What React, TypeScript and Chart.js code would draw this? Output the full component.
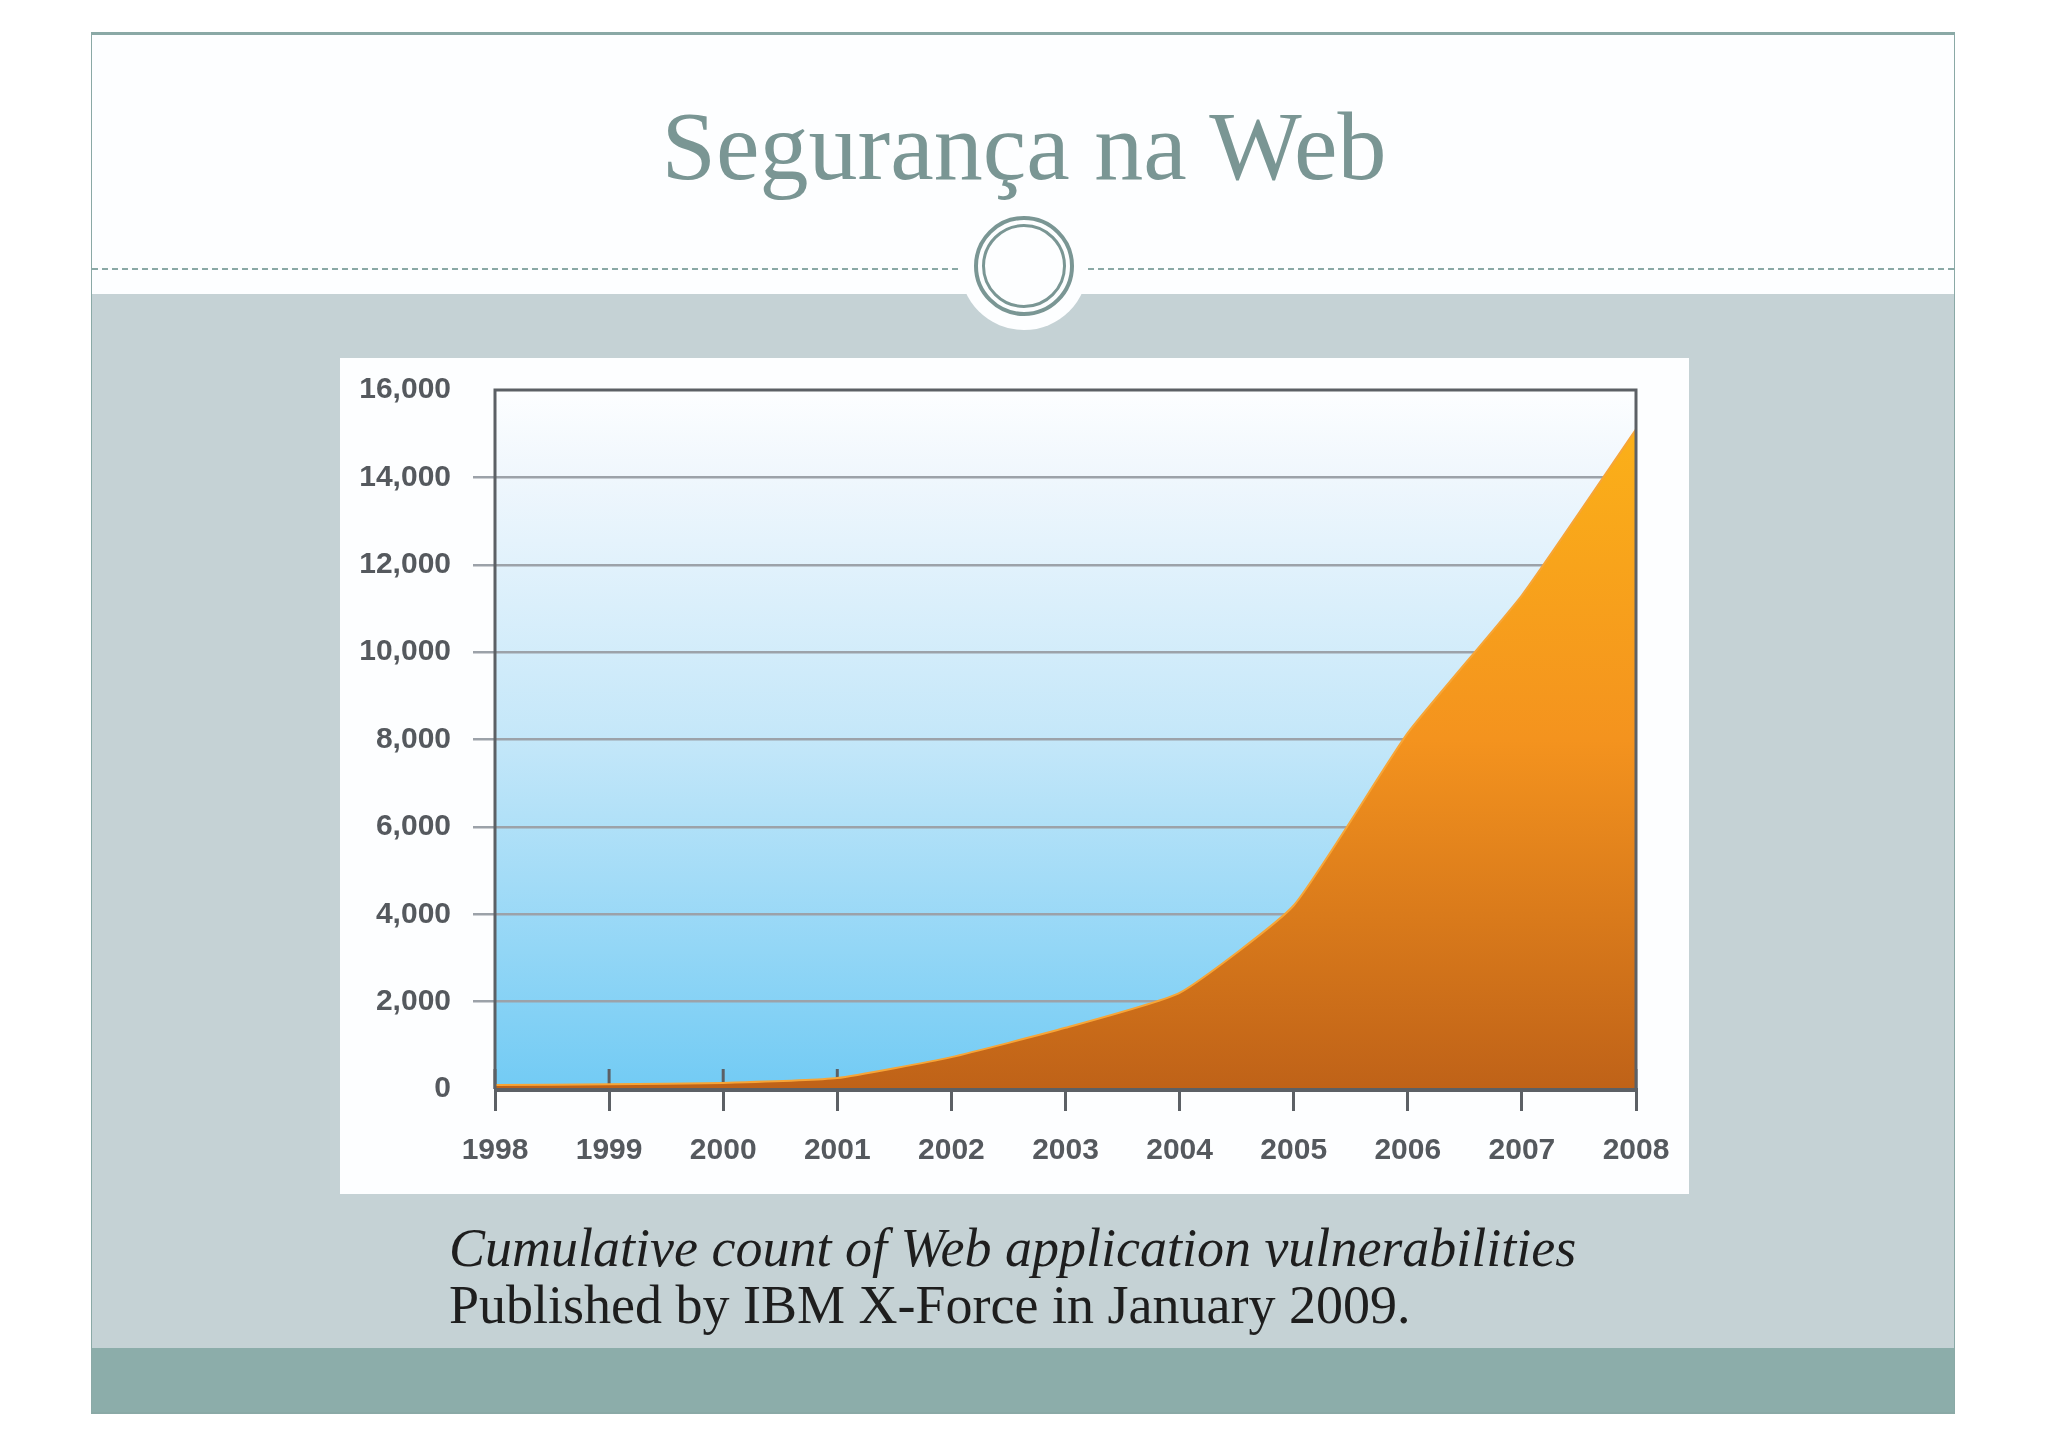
import { useEffect, useRef } from "react";
import Chart from "chart.js/auto";

const years = ["1998", "1999", "2000", "2001", "2002", "2003", "2004", "2005", "2006", "2007", "2008"];
const vulnerabilities = [90, 110, 140, 250, 730, 1400, 2200, 4200, 8150, 11300, 15100];
const yTicks = [0, 2000, 4000, 6000, 8000, 10000, 12000, 14000, 16000];

const teal = "#7a9694";
const frameLine = "#8aa9a6";
const axisDark = "#5c6065";
const labelGray = "#55595e";

// sky gradient behind the plot, tick stubs under the area, dark frame on top
const plotBackground = {
    id: "plotBackground",
    beforeDraw(chart) {
        const { ctx, chartArea } = chart;
        if (!chartArea) return;
        const g = ctx.createLinearGradient(0, chartArea.top, 0, chartArea.bottom);
        g.addColorStop(0, "#fdfeff");
        g.addColorStop(0.12, "#f0f7fd");
        g.addColorStop(0.5, "#c4e7f9");
        g.addColorStop(1, "#72cbf4");
        ctx.save();
        ctx.fillStyle = g;
        ctx.fillRect(chartArea.left, chartArea.top, chartArea.right - chartArea.left, chartArea.bottom - chartArea.top);
        ctx.restore();
    },
    beforeDatasetsDraw(chart) {
        const { ctx, chartArea } = chart;
        const xs = chart.scales.x;
        ctx.save();
        ctx.strokeStyle = axisDark;
        ctx.lineWidth = 3;
        years.forEach((_, i) => {
            const px = xs.getPixelForTick(i);
            ctx.beginPath();
            ctx.moveTo(px, chartArea.bottom);
            ctx.lineTo(px, chartArea.bottom - 20);
            ctx.stroke();
        });
        ctx.restore();
    },
    afterDatasetsDraw(chart) {
        const { ctx, chartArea } = chart;
        const { left, top, right, bottom } = chartArea;
        ctx.save();
        ctx.strokeStyle = axisDark;
        ctx.lineWidth = 3;
        ctx.beginPath();
        ctx.moveTo(left, bottom);
        ctx.lineTo(left, top);
        ctx.lineTo(right, top);
        ctx.lineTo(right, bottom);
        ctx.stroke();
        ctx.lineWidth = 4;
        ctx.beginPath();
        ctx.moveTo(left - 1, bottom + 1);
        ctx.lineTo(right + 2, bottom + 1);
        ctx.stroke();
        ctx.restore();
    },
};

function VulnChart() {
    const canvasRef = useRef<HTMLCanvasElement>(null);

    useEffect(() => {
        const ctx = canvasRef.current?.getContext("2d");
        if (!ctx) return;
        const chart = new Chart(ctx, {
            type: "line",
            data: {
                labels: years,
                datasets: [
                    {
                        label: "Cumulative count",
                        data: vulnerabilities,
                        fill: "origin",
                        backgroundColor: (c) => {
                            const { ctx, chartArea } = c.chart;
                            if (!chartArea) return "#f4951e";
                            const g = ctx.createLinearGradient(0, chartArea.top, 0, chartArea.bottom);
                            g.addColorStop(0, "#fcb418");
                            g.addColorStop(0.5, "#f4931e");
                            g.addColorStop(1, "#bf6218");
                            return g;
                        },
                        borderColor: "#f7a537",
                        borderWidth: 2,
                        pointRadius: 0,
                        tension: 0.15,
                    },
                ],
            },
            options: {
                responsive: true,
                maintainAspectRatio: false,
                animation: false,
                layout: { padding: { top: 32, right: 53, left: 0, bottom: 0 } },
                plugins: {
                    legend: { display: false },
                    tooltip: { enabled: false },
                },
                scales: {
                    x: {
                        border: { display: false },
                        grid: {
                            drawOnChartArea: false,
                            drawTicks: true,
                            tickLength: 22,
                            color: axisDark,
                            lineWidth: 3,
                        },
                        ticks: {
                            color: labelGray,
                            padding: 22,
                            maxRotation: 0,
                            autoSkip: false,
                            font: { family: "'Liberation Sans', Arial, sans-serif", size: 30, weight: "bold" },
                        },
                        afterFit: (axis) => {
                            axis.height = 105;
                            axis.paddingLeft = 0;
                            axis.paddingRight = 0;
                        },
                    },
                    y: {
                        min: 0,
                        max: 16000,
                        border: { display: false },
                        afterBuildTicks: (axis) => {
                            axis.ticks = yTicks.map((v) => ({ value: v }));
                        },
                        grid: {
                            color: (c) => (c.tick && (c.tick.value === 0 || c.tick.value === 16000) ? "rgba(0,0,0,0)" : "#9ca2a9"),
                            lineWidth: 2.5,
                            tickLength: 22,
                        },
                        ticks: {
                            color: labelGray,
                            padding: 22,
                            font: { family: "'Liberation Sans', Arial, sans-serif", size: 30, weight: "bold" },
                            callback: (v) => Number(v).toLocaleString("en-US"),
                        },
                        afterFit: (axis) => {
                            axis.width = 155;
                            axis.paddingTop = 0;
                            axis.paddingBottom = 0;
                        },
                    },
                },
            },
            plugins: [plotBackground],
        });
        return () => chart.destroy();
    }, []);

    return (
        <div style={{ position: "absolute", left: 340, top: 358, width: 1349, height: 836, background: "#fdfeff" }}>
            <canvas ref={canvasRef} />
        </div>
    );
}

export default function App() {
    return (
        <div style={{ position: "absolute", left: 0, top: 0, width: 2048, height: 1447, background: "#ffffff", overflow: "hidden" }}>
            {/* slide frame */}
            <div style={{ position: "absolute", left: 91, top: 32, width: 1864, height: 1382, boxSizing: "border-box", borderTop: `3px solid ${frameLine}`, borderLeft: `1px solid ${frameLine}`, borderRight: `1px solid ${frameLine}`, borderBottom: `2px solid ${frameLine}`, background: "#fdfeff" }} />
            <div style={{ position: "absolute", left: 92, top: 294, width: 1862, height: 1054, background: "#c5d2d5" }} />
            <div style={{ position: "absolute", left: 92, top: 1348, width: 1862, height: 64, background: "#8cadaa" }} />

            {/* dashed rule with the ring */}
            <div style={{ position: "absolute", left: 92, top: 268, width: 866, borderTop: `2px dashed ${frameLine}` }} />
            <div style={{ position: "absolute", left: 1088, top: 268, width: 866, borderTop: `2px dashed ${frameLine}` }} />
            <div style={{ position: "absolute", left: 1024 - 64, top: 266 - 64, width: 128, height: 128, borderRadius: "50%", background: "#fdfeff" }} />
            <div style={{ position: "absolute", left: 1024 - 50, top: 266 - 50, width: 100, height: 100, boxSizing: "border-box", borderRadius: "50%", border: `4px solid ${teal}` }} />
            <div style={{ position: "absolute", left: 1024 - 42, top: 266 - 42, width: 84, height: 84, boxSizing: "border-box", borderRadius: "50%", border: `3px solid ${teal}` }} />

            <div style={{ position: "absolute", left: 0, width: 2048, top: 96, textAlign: "center", fontFamily: "'Liberation Serif', serif", fontSize: 98, lineHeight: "100px", color: teal }}>
                Segurança na Web
            </div>

            <VulnChart />

            <div style={{ position: "absolute", left: 449, top: 1220, fontFamily: "'Liberation Serif', serif", fontSize: 54, lineHeight: "57px", color: "#1e1e1e" }}>
                <div style={{ fontStyle: "italic" }}>Cumulative count of Web application vulnerabilities</div>
                <div>Published by IBM X-Force in January 2009.</div>
            </div>
        </div>
    );
}
